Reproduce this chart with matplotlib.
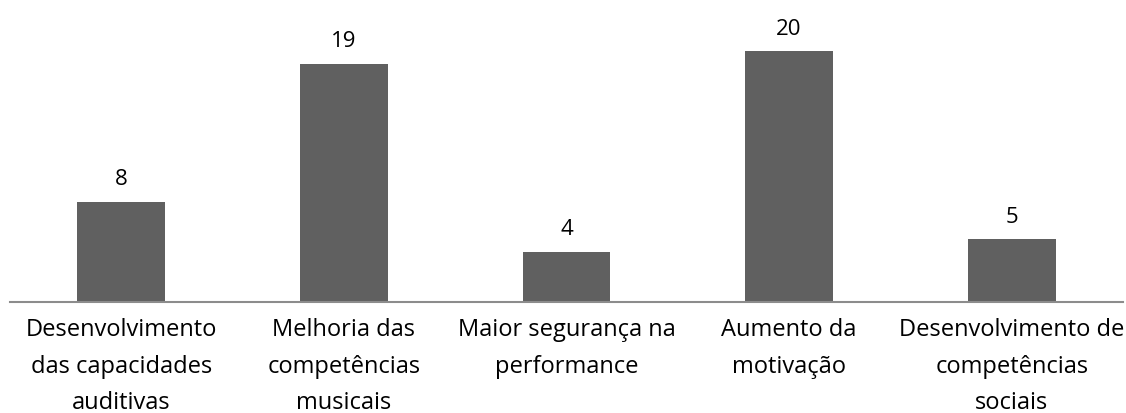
import matplotlib.pyplot as plt

plt.rcParams['font.family'] = ['Open Sans', 'DejaVu Sans']

categorias = ["Desenvolvimento\ndas capacidades\nauditivas",
              "Melhoria das\ncompetências\nmusicais",
              "Maior segurança na\nperformance",
              "Aumento da\nmotivação",
              "Desenvolvimento de\ncompetências\nsociais"]
valores = [8, 19, 4, 20, 5]

fig = plt.figure(figsize=(11.26, 4.14), dpi=100)
ax = fig.add_axes([10 / 1126, 111 / 414, 1113 / 1126, 301 / 414])

x = range(len(categorias))
bars = ax.bar(x, valores, width=0.395, color='#606060')
for b, v in zip(bars, valores):
    ax.text(b.get_x() + b.get_width() / 2, v + 1.0, str(v),
            ha='center', va='bottom', fontsize=16, color='black')

ax.set_xlim(-0.5, len(categorias) - 0.5)
ax.set_ylim(0, 24)
ax.set_xticks(list(x))
ax.set_xticklabels(categorias, fontsize=17, linespacing=1.7)
ax.tick_params(axis='x', length=0, pad=11)
ax.set_yticks([])
for s in ['top', 'right', 'left']:
    ax.spines[s].set_visible(False)
ax.spines['bottom'].set_color('#8c8c8c')
ax.spines['bottom'].set_linewidth(1.5)

fig.savefig('out.png', dpi=100)
